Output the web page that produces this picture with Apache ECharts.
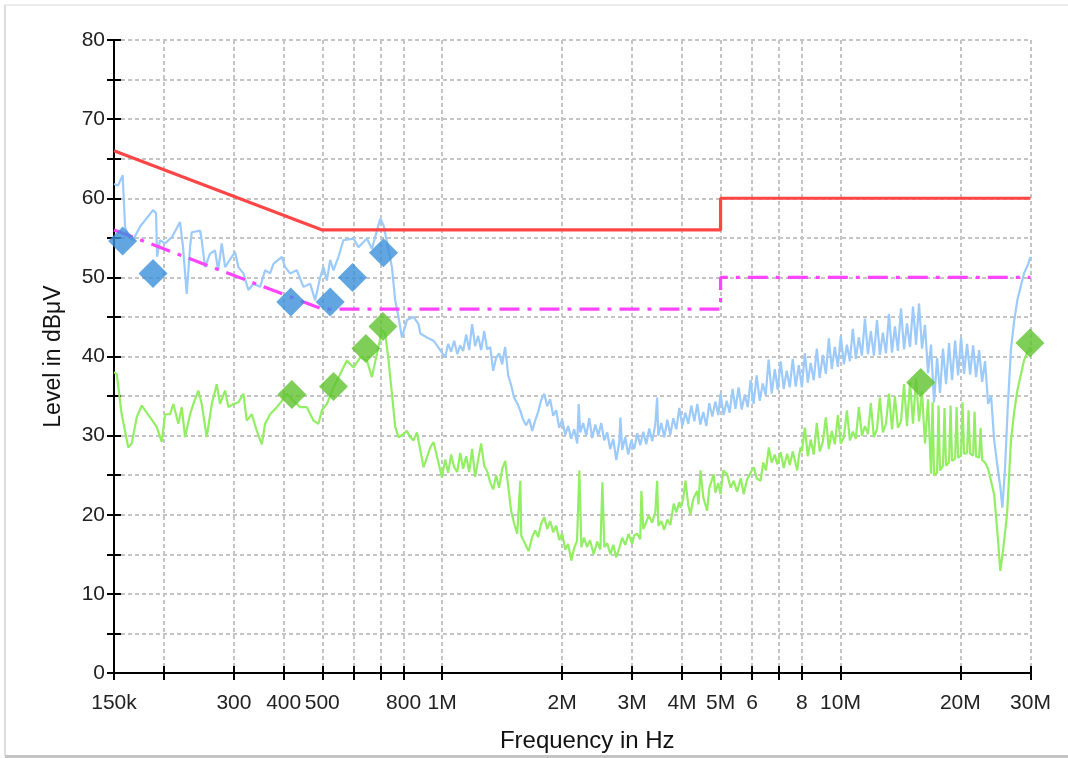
<!DOCTYPE html>
<html>
<head>
<meta charset="utf-8">
<script src="https://cdn.jsdelivr.net/npm/echarts@6/dist/echarts.min.js"></script>
<style>
html,body{margin:0;padding:0;background:#fff;}
#chart{width:1068px;height:758px;}
</style>
</head>
<body>
<div id="chart"></div>
<script>
// Frequencies in MHz, levels in dBµV
var tickValues = [0.15,0.2,0.3,0.4,0.5,0.6,0.7,0.8,1,2,3,4,5,6,7,8,10,20,30];
var labelValues = [0.15,0.3,0.4,0.5,0.8,1,2,3,4,5,6,8,10,20,30];
var labelTexts = ['150k','300','400','500','800','1M','2M','3M','4M','5M','6','8','10M','20M','30M'];

var qpLimit = [[0.15,66],[0.5,56],[5,56],[5,60],[30,60]];
var avLimit = [[0.15,56],[0.5,46],[5,46],[5,50],[30,50]];

var blueTrace = [
[0.15,61.8],[0.1535,61.6],[0.1577,62.9],[0.1599,56.4],[0.1627,55.3],[0.1674,54.7],[0.1743,56.4],[0.188,58.5],[0.1913,58.1],[0.1924,52.6],
[0.1957,54.7],[0.2015,54.3],[0.2098,55.1],[0.2197,57.0],[0.2236,53.8],[0.2284,47.9],[0.2328,53.8],[0.2351,55.7],[0.2467,55.9],[0.2491,54.7],
[0.2539,51.3],[0.2614,53.0],[0.269,53.4],[0.2738,50.9],[0.2797,54.3],[0.2851,51.3],[0.2963,52.6],[0.302,53.2],[0.3079,51.3],[0.3169,50.5],
[0.3262,48.4],[0.3358,49.2],[0.3491,48.8],[0.3593,50.9],[0.3699,50.5],[0.377,51.7],[0.3958,52.6],[0.4034,51.3],[0.4152,50.5],[0.4316,50.9],
[0.4485,48.8],[0.4662,49.2],[0.4799,47.1],[0.494,50.0],[0.5035,51.3],[0.5135,49.6],[0.5234,52.2],[0.5335,50.9],[0.5491,52.6],[0.5652,54.7],
[0.5989,54.9],[0.6165,53.8],[0.6472,54.9],[0.6662,53.6],[0.699,57.4],[0.7124,56.6],[0.7266,54.5],[0.7479,51.3],[0.7623,47.1],[0.777,45.0],
[0.7925,42.4],[0.8157,44.6],[0.8475,45.0],[0.8724,44.1],[0.881,42.9],[0.9158,42.4],[0.9514,42.0],[0.989,40.8],
[1.0175,39.9],[1.035,41.6],[1.053,40.6],[1.072,42.0],[1.091,40.3],[1.11,41.4],[1.129,40.7],[1.149,42.8],[1.169,40.8],[1.189,44.1],
[1.21,41.3],[1.231,42.6],[1.253,40.8],[1.275,43.2],[1.297,40.9],[1.32,41.2],[1.343,38.2],[1.366,39.8],[1.39,40.4],[1.415,39.0],
[1.439,41.2],[1.465,37.6],[1.49,36.4],[1.516,34.8],[1.543,34.1],[1.57,33.2],[1.597,32.0],[1.625,31.3],[1.654,32.1],[1.683,30.6],
[1.712,31.9],[1.742,33.0],[1.773,34.5],[1.804,35.3],[1.835,33.7],[1.867,34.6],[1.9,32.5],[1.933,33.2],[1.967,31.0],[2.002,32.0],
[2.037,30.1],[2.072,31.2],[2.109,29.6],[2.145,30.8],[2.183,29.0],[2.202,34.0],[2.221,30.4],[2.26,31.6],[2.3,30.0],[2.34,32.2],
[2.381,29.7],[2.423,31.4],[2.465,30.0],[2.508,31.6],[2.552,29.4],[2.597,30.4],[2.642,28.3],[2.689,29.6],[2.736,26.9],[2.784,29.2],
[2.802,32.3],[2.832,28.2],[2.882,29.8],[2.932,27.6],[2.984,29.4],[3.036,28.3],[3.089,30.3],[3.143,28.8],[3.198,30.5],[3.254,28.9],
[3.311,30.9],[3.369,29.3],[3.428,31.4],[3.465,34.8],[3.488,30.0],[3.549,31.6],[3.611,29.8],[3.675,32.0],[3.739,30.1],[3.804,32.2],
[3.871,30.8],[3.939,33.5],[4.008,31.2],[4.078,32.9],[4.149,31.5],[4.222,33.8],[4.296,31.8],[4.371,34.0],[4.448,31.4],[4.525,33.0],
[4.605,31.2],[4.685,34.1],[4.767,32.4],[4.851,34.3],[4.936,32.6],
[5.00,35.3],[5.09,32.6],[5.18,34.4],[5.27,32.9],[5.36,35.9],[5.45,33.4],[5.55,36.1],[5.65,33.3],[5.75,35.2],[5.85,33.6],
[5.95,37.0],[6.05,34.0],[6.16,37.6],[6.27,34.4],[6.38,36.6],[6.49,35.1],[6.60,39.6],[6.72,35.3],[6.84,38.4],[6.96,35.8],
[7.08,39.4],[7.20,35.9],[7.33,38.2],[7.46,36.1],[7.59,39.7],[7.72,36.2],[7.86,38.9],[8.00,36.1],[8.14,40.4],[8.28,36.7],
[8.42,39.2],[8.57,37.0],[8.72,41.0],[8.87,37.3],[9.03,40.2],[9.19,37.8],[9.35,42.3],[9.51,38.4],[9.68,41.2],[9.85,38.7],
[10.02,42.6],[10.2,39.0],[10.38,41.5],[10.56,39.4],[10.74,43.5],[10.93,39.7],[11.12,42.4],[11.32,40.1],[11.52,44.8],[11.72,40.3],
[11.92,43.2],[12.13,40.1],[12.35,44.6],[12.56,40.2],[12.78,43.0],[13.01,40.4],[13.24,45.4],[13.47,40.5],[13.7,43.8],[13.94,40.7],
[14.19,46.1],[14.44,40.9],[14.69,44.2],[14.95,41.2],[15.21,46.3],[15.48,41.5],[15.75,46.7],[16.02,41.0],[16.3,44.0],[16.59,37.9],
[16.88,41.5],[17.18,34.2],[17.48,39.8],[17.78,35.4],[18.09,41.0],[18.41,36.5],[18.73,41.7],[19.06,37.0],[19.4,42.0],[19.74,37.6],
[20.08,42.4],[20.43,37.8],[20.79,41.6],[21.16,37.7],[21.53,41.4],[21.9,37.4],[22.29,40.8],[22.68,36.8],[23.07,39.4],[23.48,34.0],
[23.89,35.0],[24.31,29.5],[24.8,26.0],[25.2,23.5],[25.5,20.9],[25.9,26.0],[26.3,33.5],[26.8,41.0],[27.3,44.5],[27.8,47.1],
[28.4,49.0],[28.9,50.5],[29.5,51.5],[30.0,52.6]
];

var greenTrace = [
[0.15,38.0],[0.1524,37.8],[0.1568,32.7],[0.1629,28.5],[0.1662,29.0],[0.171,32.3],[0.1761,33.8],[0.1848,32.3],[0.192,31.1],[0.1977,29.2],
[0.2015,32.7],[0.2074,32.7],[0.2114,34.0],[0.2176,31.5],[0.2219,33.6],[0.2262,29.8],[0.2328,32.7],[0.2373,34.0],[0.2443,35.7],[0.2491,34.0],
[0.2564,29.8],[0.264,34.0],[0.2717,36.5],[0.2769,34.0],[0.2851,35.7],[0.2906,33.6],[0.2991,34.0],[0.3079,34.2],[0.3169,35.3],[0.3232,31.9],
[0.3327,32.7],[0.3425,30.6],[0.3525,28.9],[0.3593,31.5],[0.3699,32.7],[0.3845,33.6],[0.3958,34.4],[0.4074,35.3],[0.4232,34.4],[0.44,33.6],
[0.4573,33.6],[0.4752,31.9],[0.4891,31.5],[0.4988,33.2],[0.5135,34.0],[0.5335,36.1],[0.5546,37.8],[0.5765,39.5],[0.5989,38.6],[0.6226,39.9],
[0.6472,39.5],[0.6662,37.4],[0.6857,40.3],[0.7059,43.3],[0.7195,42.9],[0.7334,39.5],[0.7479,35.3],[0.7623,31.1],[0.777,29.8],[0.7999,30.2],
[0.8157,30.6],[0.8315,29.8],[0.8475,29.4],[0.8643,30.4],[0.8979,26.0],[0.9334,28.5],[0.9514,29.2],[0.9987,24.7],
[1.0175,27.0],[1.035,25.3],[1.053,27.6],[1.072,26.0],[1.091,25.4],[1.11,27.8],[1.129,25.8],[1.149,27.4],[1.169,25.4],[1.189,28.3],
[1.21,24.8],[1.231,26.9],[1.253,29.0],[1.275,26.2],[1.297,25.5],[1.32,24.1],[1.343,23.2],[1.366,25.0],[1.39,23.4],[1.415,25.8],
[1.44,26.8],[1.465,23.6],[1.49,20.5],[1.516,18.9],[1.543,17.6],[1.571,24.3],[1.58,17.3],[1.61,16.5],[1.648,15.4],[1.683,17.2],
[1.712,18.0],[1.742,17.2],[1.773,18.9],[1.804,19.7],[1.835,18.2],[1.867,19.2],[1.9,17.8],[1.933,18.6],[1.967,16.8],[2.002,17.6],
[2.037,15.6],[2.072,16.3],[2.109,14.2],[2.145,15.8],[2.181,16.7],[2.21,25.6],[2.236,15.9],[2.27,17.1],[2.311,15.9],[2.35,16.8],
[2.401,15.0],[2.45,16.6],[2.496,15.6],[2.525,24.1],[2.554,15.9],[2.597,16.4],[2.645,15.0],[2.689,16.2],[2.736,14.6],[2.784,15.8],
[2.832,17.1],[2.882,16.2],[2.94,17.6],[2.998,16.3],[3.036,17.4],[3.086,17.6],[3.143,16.9],[3.164,23.0],[3.198,18.2],[3.238,18.8],
[3.3,19.9],[3.366,19.0],[3.428,20.3],[3.465,24.3],[3.49,18.6],[3.549,19.2],[3.611,18.1],[3.675,19.4],[3.739,18.7],[3.814,21.4],
[3.871,20.3],[3.939,21.6],[3.964,20.9],[4.03,22.0],[4.081,24.3],[4.149,21.2],[4.2,20.1],[4.27,22.0],[4.367,23.0],[4.40,21.3],
[4.452,25.6],[4.525,22.2],[4.626,20.5],[4.685,23.4],[4.806,25.1],[4.851,22.8],[4.936,24.0],[4.997,22.6],[5.08,25.6],[5.194,25.1],
[5.3,23.4],[5.396,24.3],[5.5,22.9],[5.62,24.6],[5.718,22.6],[5.82,24.4],[5.95,25.3],[6.059,26.0],[6.16,24.6],[6.30,24.3],
[6.4,26.6],[6.5,25.6],[6.608,28.5],[6.72,26.6],[6.84,27.6],[6.936,26.4],[7.08,27.9],[7.2,25.9],[7.35,27.7],[7.46,26.3],
[7.59,28.0],[7.788,25.6],[7.86,27.3],[7.94,28.5],
[8.0,28.0],[8.14,31.0],[8.28,27.4],[8.42,29.5],[8.57,27.6],[8.72,31.6],[8.87,28.0],[9.03,29.2],[9.19,32.3],[9.35,28.3],
[9.51,30.6],[9.68,28.9],[9.85,32.6],[10.02,29.0],[10.2,29.8],[10.38,33.2],[10.56,29.4],[10.74,30.5],[10.93,29.6],[11.12,33.6],
[11.32,30.0],[11.52,31.2],[11.72,30.2],[11.92,34.1],[12.13,29.8],[12.35,30.8],[12.56,34.8],[12.78,30.4],[13.01,31.5],[13.24,35.3],
[13.47,30.8],[13.7,35.0],[13.94,31.0],[14.19,31.8],[14.44,36.5],[14.69,31.2],[14.95,36.8],[15.21,31.5],[15.48,37.2],[15.75,31.8],
[16.02,35.6],[16.3,29.0],[16.59,34.6],[16.88,25.2],[17.03,34.2],[17.18,25.0],[17.48,25.3],[17.63,33.8],[17.78,25.6],[18.09,26.2],
[18.25,33.5],[18.41,26.2],[18.73,26.6],[18.9,33.8],[19.06,26.8],[19.4,27.1],[19.57,33.6],[19.74,27.2],[20.08,27.5],[20.25,34.2],
[20.43,27.7],[20.79,27.8],[20.97,33.2],[21.16,27.7],[21.53,27.5],[21.71,33.0],[21.9,27.4],[22.29,27.2],[22.48,31.0],[22.68,26.9],
[23.07,26.6],[23.48,25.8],[23.89,24.2],[24.31,22.6],[24.8,17.5],[25.2,12.9],[25.6,15.5],[26.2,20.1],[26.8,29.4],[27.3,33.0],
[27.8,35.7],[28.4,37.8],[28.9,39.5],[29.5,40.6],[30.0,41.2]
];

var qpMarks = [[0.1577,54.6],[0.188,50.5],[0.4169,46.9],[0.5234,46.9],[0.5955,50.0],[0.7124,53.1]];
var avMarks = [[0.4194,35.2],[0.5335,36.2],[0.6435,41.0],[0.710,43.8],[15.9,36.7],[29.9,41.7]];

var yTickLabels = ['0','10','20','30','40','50','60','70','80'];

var FONT = "'Liberation Sans', Arial, sans-serif";
function labelFor(v){
  var key = Math.round(v*100)/100;
  for (var i=0;i<labelValues.length;i++){ if (Math.abs(labelValues[i]-key)<1e-6) return labelTexts[i]; }
  return '';
}
var axisBlack = {show:true, lineStyle:{color:'#000', width:2}};
var gridLine = {show:true, lineStyle:{color:'#c4c4c4', width:2, type:[4,3]}};

var chart = echarts.init(document.getElementById('chart'), null, {renderer:'canvas'});
chart.setOption({
  animation:false,
  backgroundColor:'#fff',
  graphic:[
    {type:'line', shape:{x1:5,y1:5,x2:1068,y2:5}, style:{stroke:'#ededed', lineWidth:2}, silent:true},
    {type:'line', shape:{x1:5,y1:5,x2:5,y2:756}, style:{stroke:'#d2d2d2', lineWidth:1.5}, silent:true},
    {type:'line', shape:{x1:5,y1:756.5,x2:1068,y2:756.5}, style:{stroke:'#c4c4c4', lineWidth:3}, silent:true}
  ],
  grid:{left:114, right:37.5, top:40, bottom:85, containLabel:false},
  xAxis:[
    {type:'log', logBase:10, min:0.15, max:30, position:'bottom',
     name:'Frequency in Hz', nameLocation:'middle', nameGap:56,
     nameTextStyle:{fontFamily:FONT, fontSize:24, color:'#111', padding:[0,0,0,30]},
     axisLine:axisBlack,
     axisTick:{show:true, inside:false, length:7, customValues:tickValues, lineStyle:{color:'#000', width:2}},
     axisLabel:{show:true, customValues:labelValues, margin:20, fontFamily:FONT, fontSize:21, color:'#222',
       formatter:function(v){return labelFor(v);}},
     splitLine:gridLine, minorTick:{show:false}, minorSplitLine:{show:false}},
    {type:'log', logBase:10, min:0.15, max:30, position:'bottom', gridIndex:0,
     axisLine:{show:false},
     axisTick:{show:true, inside:true, length:7, customValues:tickValues, lineStyle:{color:'#000', width:2}},
     axisLabel:{show:false}, splitLine:{show:false}}
  ],
  yAxis:[
    {type:'value', min:0, max:80, interval:5, position:'left',
     name:'Level in dBμV', nameLocation:'middle', nameGap:40,
     nameTextStyle:{fontFamily:FONT, fontSize:23, color:'#111', padding:[0,0,9,0]},
     axisLine:axisBlack,
     axisTick:{show:true, inside:false, length:7, lineStyle:{color:'#000', width:2}},
     axisLabel:{show:true, margin:9, fontFamily:FONT, fontSize:21, color:'#222',
       formatter:function(v){ var s=String(v); return yTickLabels.indexOf(s)>=0 ? s : ''; }},
     splitLine:gridLine},
    {type:'value', min:0, max:80, interval:5, position:'left', gridIndex:0,
     axisLine:{show:false},
     axisTick:{show:true, inside:true, length:7, lineStyle:{color:'#000', width:2}},
     axisLabel:{show:false}, splitLine:{show:false}}
  ],
  series:[
    {type:'line', name:'Peak', data:blueTrace, showSymbol:false, symbol:'none', z:2,
     lineStyle:{color:'#9ccafa', width:2.2}},
    {type:'line', name:'Average', data:greenTrace, showSymbol:false, symbol:'none', z:2,
     lineStyle:{color:'#92ee62', width:2.2}},
    {type:'line', name:'QP limit', data:qpLimit, showSymbol:false, symbol:'none', z:3,
     lineStyle:{color:'#ff4646', width:3.2}},
    {type:'line', name:'AV limit', data:avLimit, showSymbol:false, symbol:'none', z:3,
     lineStyle:{color:'#ff44ff', width:3.2, type:[20,8,4,8]}},
    {type:'scatter', name:'QP', data:qpMarks, symbol:'diamond', symbolSize:[29,29], z:4,
     itemStyle:{color:'#3a90da'}},
    {type:'scatter', name:'AV', data:avMarks, symbol:'diamond', symbolSize:[29,29], z:4,
     itemStyle:{color:'#5ec22e'}}
  ]
});
</script>
</body>
</html>
